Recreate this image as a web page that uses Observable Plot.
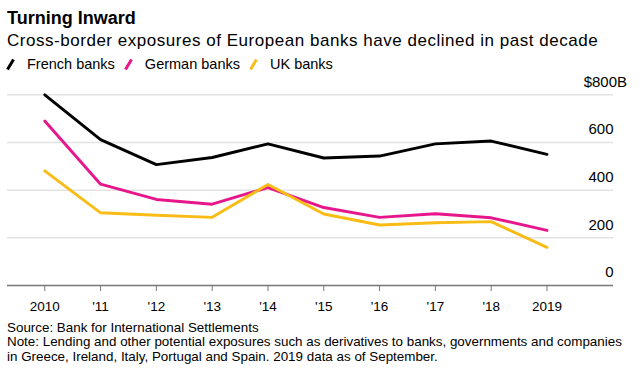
<!DOCTYPE html>
<html><head><meta charset="utf-8">
<script src="https://cdn.jsdelivr.net/npm/d3@7"></script>
<script src="https://cdn.jsdelivr.net/npm/@observablehq/plot@0.6"></script>
<style>
body{margin:0;background:#fff;font-family:"Liberation Sans",Arial,sans-serif;color:#000;width:640px;height:384px;overflow:hidden;position:relative}
.abs{position:absolute;left:7px;white-space:nowrap}
#title{top:8.8px;font-size:18px;line-height:18px;font-weight:bold}
#subtitle{top:31.6px;font-size:17px;line-height:17px;letter-spacing:0.53px}
#legend{top:56.7px;font-size:14.5px;line-height:14.5px;left:5px;display:flex;align-items:center}
#legend span.item{display:inline-flex;align-items:center;margin-right:8px}
#legend svg{margin-right:2px}
#chart{position:absolute;left:0;top:74px}
#notes{top:320.5px;font-size:13.4px;line-height:14.5px}
</style>
</head><body>
<div id="title" class="abs">Turning Inward</div>
<div id="subtitle" class="abs">Cross-border exposures of European banks have declined in past decade</div>
<div id="legend" class="abs"></div>
<div id="chart"></div>
<div id="notes" class="abs">Source: Bank for International Settlements<br>Note: Lending and other potential exposures such as derivatives to banks, governments and companies<br>in Greece, Ireland, Italy, Portugal and Spain. 2019 data as of September.</div>
<script>
const years = [2010, 2011, 2012, 2013, 2014, 2015, 2016, 2017, 2018, 2019];
const french = [800, 612, 507, 537, 594, 535, 543, 594, 606, 550];
const german = [690, 425, 361, 341, 411, 327, 286, 301, 284, 231];
const uk = [481, 305, 295, 286, 424, 300, 254, 263, 268, 160];
const seriesNames = ["French banks", "German banks", "UK banks"];
const seriesColors = ["#000000", "#e8168b", "#f9bc15"];
const yTicks = [0, 200, 400, 600, 800];
const xTickLabels = ["2010", "'11", "'12", "'13", "'14", "'15", "'16", "'17", "'18", "2019"];

const xDomain = [2009.332, 2020.192];
const rows = (vals, name) => years.map((y, i) => ({year: y, value: vals[i], series: name}));

// legend
const legend = document.getElementById("legend");
seriesNames.forEach((n, i) => {
  const s = document.createElement("span");
  s.className = "item";
  s.innerHTML = `<svg width="20" height="14"><line x1="2.5" y1="12.5" x2="8.5" y2="2.5" stroke="${seriesColors[i]}" stroke-width="3"/></svg>${n}`;
  legend.appendChild(s);
});

const chart = Plot.plot({
  width: 640,
  height: 244,
  marginLeft: 7,
  marginRight: 27,
  marginTop: 20.3,
  marginBottom: 33,
  style: {fontFamily: '"Liberation Sans", Arial, sans-serif', background: "#fff", color: "#000"},
  x: {domain: xDomain, axis: null},
  y: {domain: [0, 800], axis: null},
  marks: [
    Plot.ruleY(yTicks.filter(d => d > 0), {stroke: "#e3e3e3", strokeWidth: 1.5}),
    Plot.ruleY([0], {stroke: "#777", strokeWidth: 1.6}),
    Plot.axisX({ticks: years, tickSize: 6, tickPadding: 9.5, fontSize: 13.5, stroke: "#777", label: null,
      tickFormat: d => xTickLabels[years.indexOf(d)]}),
    Plot.lineY(rows(german, "German banks"), {x: "year", y: "value", stroke: seriesColors[1], strokeWidth: 2.9}),
    Plot.lineY(rows(uk, "UK banks"), {x: "year", y: "value", stroke: seriesColors[2], strokeWidth: 2.9}),
    Plot.lineY(rows(french, "French banks"), {x: "year", y: "value", stroke: seriesColors[0], strokeWidth: 2.9}),
    Plot.text(yTicks.filter(d => d < 800), {x: () => xDomain[1], y: d => d, text: d => String(d), textAnchor: "end", dy: -13, fontSize: 15}),
    Plot.text(yTicks.filter(d => d === 800), {x: () => xDomain[1], y: d => d, text: d => `$${d}B`, textAnchor: "end", dx: 13.5, dy: -13, fontSize: 15})
  ]
});
document.getElementById("chart").appendChild(chart);
</script>
</body></html>
